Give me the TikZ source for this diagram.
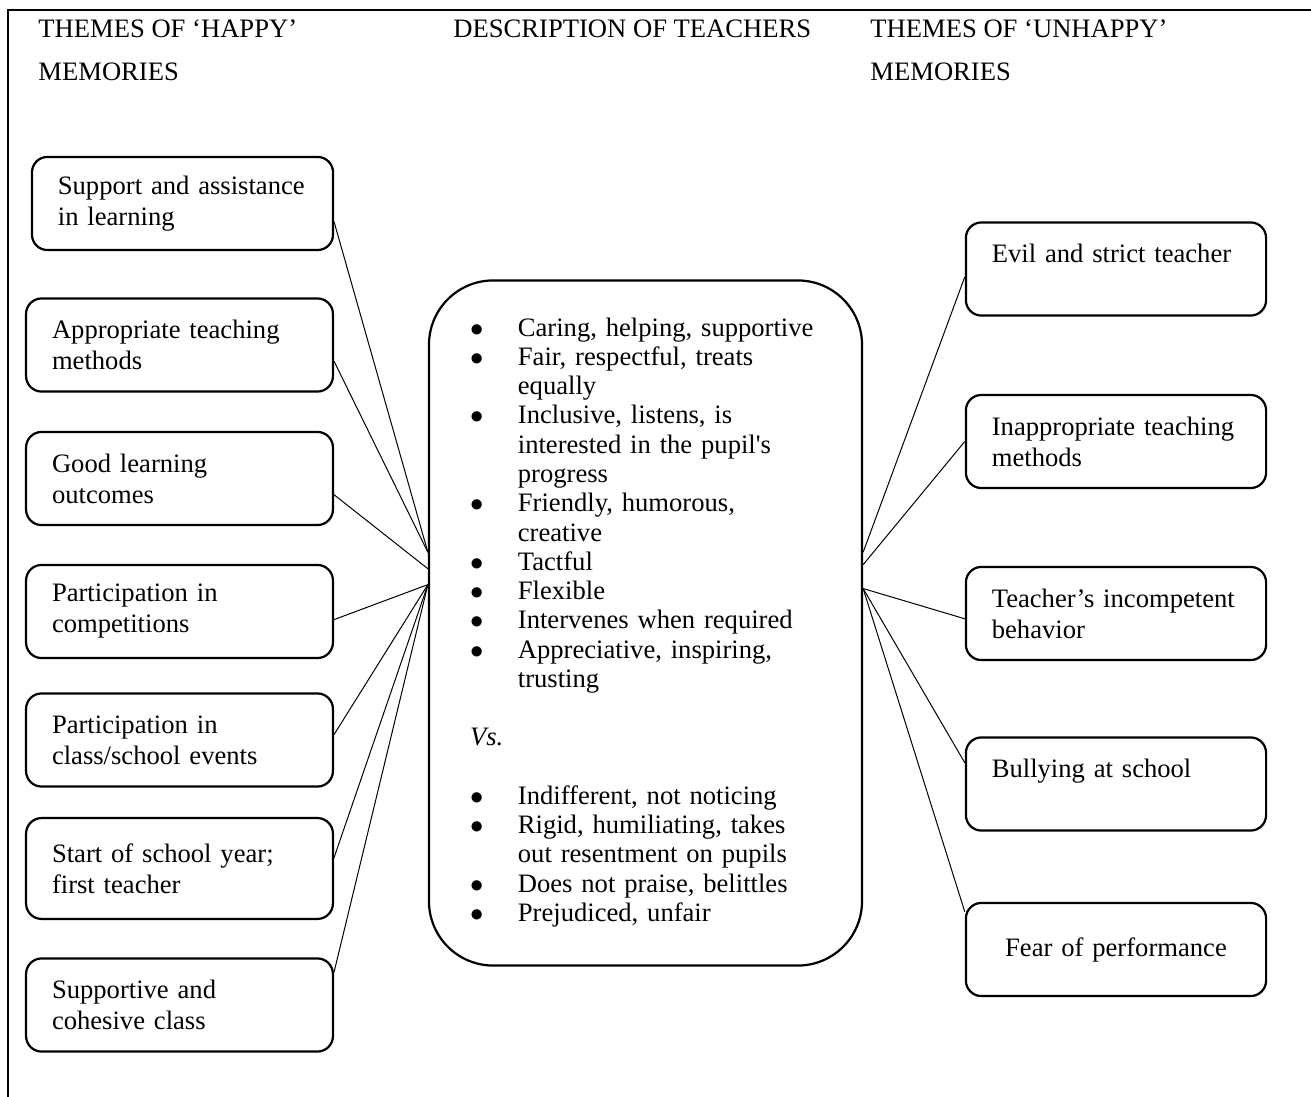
\documentclass[tikz,border=0pt]{standalone}
\usepackage{fontspec}
\setmainfont{Liberation Serif}[Ligatures=TeXOff]
\usepackage{tikz}

\begin{document}
\begin{tikzpicture}[
    x=0.451pt, y=-0.451pt,
    every node/.style={font=\fontsize{12}{14}\selectfont},
    head/.style={anchor=north west, inner sep=0pt, align=left,
                 font=\fontsize{12}{19.4}\selectfont},
    theme/.style={draw, line width=1pt, rounded corners=7pt,
                  minimum height=42pt, inner xsep=11.7pt,
                  text width=115pt, align=left},
    themer/.style={theme, text width=112pt},
    desc/.style={draw, line width=1pt, rounded corners=29pt,
                 minimum width=195.3pt, minimum height=309pt,
                 inner xsep=18.5pt, text width=158.3pt, align=left,
                 font=\fontsize{12}{13.2}\selectfont},
    link/.style={line width=0.45pt},
]
\useasboundingbox (0,0) rectangle (1311,1097);

%% Frame
\draw[line width=0.9pt] (8,1097) -- (8,10) -- (1311,10);

%% Headings
\node[head] (hhappy)   at (38,19.5)  {THEMES OF ‘HAPPY’\\MEMORIES};
\node[head] (hdesc)    at (453,19.5) {DESCRIPTION OF TEACHERS};
\node[head] (hunhappy) at (870,19.5) {THEMES OF ‘UNHAPPY’\\MEMORIES};

%% Happy themes (left column)
\node[theme, text width=112.4pt] (b1) at (182.5,203.5) {Support and assistance\\in learning};
\node[theme] (b2) at (179.5,345)   {Appropriate teaching\\methods};
\node[theme] (b3) at (179.5,478.5) {Good learning\\outcomes};
\node[theme] (b4) at (179.5,611.5) {Participation in\\competitions};
\node[theme] (b5) at (179.5,740)   {Participation in\\class/school events};
\node[theme, minimum height=45.5pt] (b6) at (179.5,868.5) {Start of school year;\\first teacher};
\node[theme] (b7) at (179.5,1005)  {Supportive and\\cohesive class};

%% Teacher description (centre)
\node[desc] (desc) at (645.5,623) {\noindent
  \begin{tabular}{@{}p{21.6pt}@{}l@{}}
  $\bullet$ & Caring, helping, supportive\\
  $\bullet$ & Fair, respectful, treats\\
            & equally\\
  $\bullet$ & Inclusive, listens, is\\
            & interested in the pupil's\\
            & progress\\
  $\bullet$ & Friendly, humorous,\\
            & creative\\
  $\bullet$ & Tactful\\
  $\bullet$ & Flexible\\
  $\bullet$ & Intervenes when required\\
  $\bullet$ & Appreciative, inspiring,\\
            & trusting\\
            & \\
  \multicolumn{2}{@{}l@{}}{\itshape Vs.}\\
            & \\
  $\bullet$ & Indifferent, not noticing\\
  $\bullet$ & Rigid, humiliating, takes\\
            & out resentment on pupils\\
  $\bullet$ & Does not praise, belittles\\
  $\bullet$ & Prejudiced, unfair
  \end{tabular}};

%% Unhappy themes (right column)
\node[themer] (r1) at (1116,269)   {Evil and strict teacher\\\mbox{}};
\node[themer] (r2) at (1116,441.5) {Inappropriate teaching\\methods};
\node[themer] (r3) at (1116,613.5) {Teacher’s incompetent\\behavior};
\node[themer] (r4) at (1116,784)   {Bullying at school\\\mbox{}};
\node[themer, align=center] (r5) at (1116,949.5) {Fear of performance};

%% Links
\draw[link] (b1.-7.4) -- (desc.162.4);
\draw[link] (b2.-6.3) -- (desc.162.4);
\draw[link] (b3.-6.1) -- (desc.166.4);
\draw[link] (b4.-3.2) -- (desc.170.2);
\draw[link] (b5.2.6)  -- (desc.170.2);
\draw[link] (b6.4.3)  -- (desc.170.2);
\draw[link] (b7.12.9) -- (desc.170.2);

\draw[link] (r1.183.1) -- (desc.18.5);
\draw[link] (r2.180)   -- (desc.15.1);
\draw[link] (r3.182.5) -- (desc.9.8);
\draw[link] (r4.172.8) -- (desc.9.8);
\draw[link] (r5.166.3) -- (desc.9.8);

\end{tikzpicture}
\end{document}
